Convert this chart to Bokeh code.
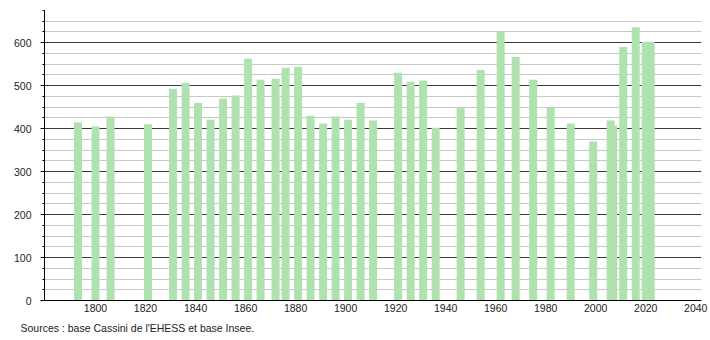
from bokeh.plotting import figure
from bokeh.models import Range1d, FixedTicker, Title, ColumnDataSource
from bokeh.embed import file_html
from bokeh.resources import INLINE

years = [1793, 1800, 1806, 1821, 1831, 1836, 1841, 1846, 1851, 1856,
         1861, 1866, 1872, 1876, 1881, 1886, 1891, 1896, 1901, 1906,
         1911, 1921, 1926, 1931, 1936, 1946, 1954, 1962, 1968, 1975,
         1982, 1990, 1999, 2006, 2007, 2011, 2016, 2020, 2022]
population = [415, 405, 428, 410, 493, 507, 460, 421, 470, 477,
              563, 514, 516, 542, 544, 430, 412, 428, 421, 460,
              419, 530, 509, 512, 402, 450, 537, 625, 567, 514,
              450, 412, 370, 419, 407, 590, 636, 602, 602]
x_ticks = [1800, 1820, 1840, 1860, 1880, 1900, 1920, 1940, 1960, 1980, 2000, 2020, 2040]
y_ticks = [0, 100, 200, 300, 400, 500, 600]
y_minor = [v for v in range(0, 700, 25) if v % 100 != 0]
source_text = "Sources : base Cassini de l'EHESS et base Insee."

# draw later years first so earlier bars sit on top where they overlap
src = ColumnDataSource(dict(x=years[::-1], top=population[::-1]))

p = figure(width=710, height=340, output_backend="svg", toolbar_location=None,
           x_range=Range1d(1779.6, 2042.3), y_range=Range1d(0, 675),
           min_border_left=44, min_border_right=9, min_border_top=10, min_border_bottom=40)
p.outline_line_color = None
p.background_fill_color = "white"

p.vbar(x="x", top="top", width=3.2, source=src, fill_color="#b0e2b0", line_color=None)

p.xgrid.visible = False
p.ygrid.ticker = FixedTicker(ticks=y_ticks, minor_ticks=y_minor)
p.ygrid.grid_line_color = "#3a3a3a"
p.ygrid.grid_line_width = 1
p.ygrid.minor_grid_line_color = "#c8c8c8"
p.ygrid.level = "underlay"

p.yaxis.ticker = FixedTicker(ticks=y_ticks, minor_ticks=y_minor)
p.yaxis.major_tick_out = 4
p.yaxis.major_tick_in = 0
p.yaxis.minor_tick_out = 2
p.yaxis.minor_tick_in = 0
p.yaxis.major_label_standoff = 9
p.yaxis.axis_line_color = "black"
p.yaxis.major_tick_line_color = "black"
p.yaxis.minor_tick_line_color = "black"

p.xaxis.ticker = FixedTicker(ticks=x_ticks)
p.xaxis.major_tick_out = 0
p.xaxis.major_tick_in = 0
p.xaxis.minor_tick_out = 0
p.xaxis.minor_tick_in = 0
p.xaxis.major_label_standoff = 3
p.xaxis.axis_line_color = "black"

for ax in (p.xaxis, p.yaxis):
    ax.major_label_text_font = "Liberation Sans"
    ax.major_label_text_font_size = "10.5px"
    ax.major_label_text_color = "#222222"

p.add_layout(Title(text=source_text, align="left", offset=-24, standoff=10,
                   text_font="Liberation Sans", text_font_size="10.5px",
                   text_font_style="normal", text_color="#222222"), "below")

open("out.html", "w").write(file_html(p, INLINE))
